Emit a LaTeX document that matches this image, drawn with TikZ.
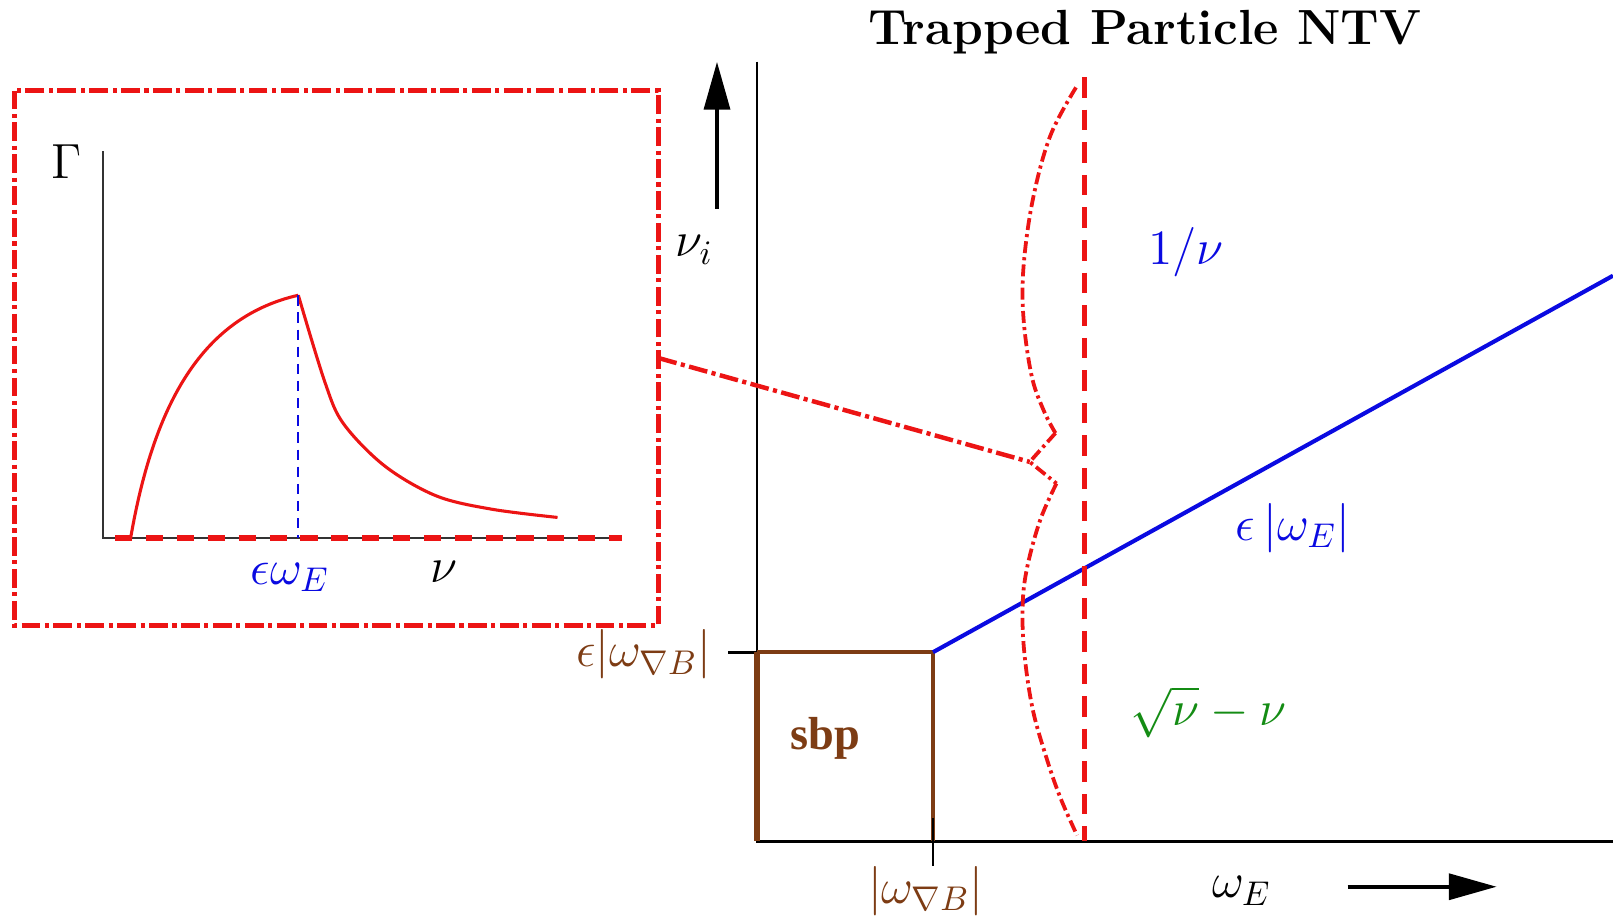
\documentclass[tikz,border=0pt]{standalone}
\usepackage{fontspec}
\newfontfamily\timesfam{Liberation Serif}
\usetikzlibrary{arrows.meta}
\definecolor{rd}{RGB}{236,20,20}
\definecolor{bl}{RGB}{10,10,225}
\definecolor{br}{RGB}{125,60,20}
\definecolor{gr}{RGB}{20,140,20}
\begin{document}
\begin{tikzpicture}[x=0.3pt,y=-0.3pt,
  lab/.style={inner sep=0pt, font=\fontsize{14.4}{17}\selectfont},
  thinaxis/.style={line width=0.6pt, black!80},
  ddotbox/.style={rd, line width=1.3pt, dash pattern=on 5.5pt off 1.3pt on 1.2pt off 1.3pt},
  ddotcurve/.style={rd, line width=1.1pt, dash pattern=on 3.5pt off 1.2pt on 0.9pt off 1.2pt},
  reddash/.style={rd, line width=1.6pt, dash pattern=on 5pt off 4pt},
  bigarrow/.style={line width=1.3pt, -{Triangle[length=14pt,width=7.5pt]}},
]
\useasboundingbox (0,0) rectangle (1568,894);

% ---------- inset ----------
\coordinate (bTL) at (14,88);
\coordinate (bBR) at (640,608);
\coordinate (bJ) at (640,348);
\draw[ddotbox] (bTL) rectangle (bBR);

\coordinate (gTop) at (100,147);
\coordinate (gO) at (100,523);
\coordinate (gEnd) at (605,523);
\coordinate (gS) at (112,523);
\draw[thinaxis] (gTop) -- (gO) -- (gEnd);
\draw[reddash] (gS) -- (gEnd);

\coordinate (pk) at (290,287);
\coordinate (pkb) at (290,523);
\coordinate (st) at (127,523);
\draw[rd, line width=0.9pt] (st) .. controls (150,390) and (198,308) .. (pk);
\draw[rd, line width=0.9pt] plot[smooth, tension=0.55] coordinates
  {(pk) (316,372) (334,412) (374,453) (424,482) (478,495) (542,503)};
\draw[bl, line width=0.5pt, dash pattern=on 3pt off 2pt] (pk) -- (pkb);

\node[lab] (Gam) at (65,157) {$\Gamma$};
\node[lab, text=bl] (eps) at (282,561) {$\epsilon\omega_E$};
\node[lab] (nu) at (432,556) {$\nu$};

% ---------- main diagram ----------
\node[font=\fontsize{14.4}{17}\selectfont\bfseries] (title) at (1113,31) {Trapped Particle NTV};

\coordinate (upA) at (697,203);
\coordinate (upB) at (697,60);
\draw[bigarrow] (upA) -- (upB);
\node[lab] (nui) at (675,243) {$\nu_i$};

\coordinate (yT) at (736,60);
\coordinate (O) at (736,818);
\coordinate (xE) at (1568,818);
\draw[line width=0.8pt] (yT) -- (O) -- (xE);

\coordinate (tkL) at (708,634);
\coordinate (c1) at (736,634);
\coordinate (c2) at (907,634);
\coordinate (c3) at (907,818);
\coordinate (tkT) at (907,795);
\coordinate (tkB) at (907,842);
\draw[line width=0.8pt] (tkL) -- (c1);
\draw[br, line width=1.1pt] (c1) -- (c2) -- (c3);
\draw[br, line width=1.6pt] (c1) -- (O);
\draw[line width=0.8pt] (tkT) -- (tkB);

\node[font=\timesfam\bfseries\fontsize{13.5}{16}\selectfont, text=br] (sbp) at (802,718) {sbp};
\node[lab, text=br, anchor=east] (eB) at (692,636) {$\epsilon\bigl|\omega_{\nabla B}\bigr|$};
\node[lab, text=br] (wB) at (900,866) {$\bigl|\omega_{\nabla B}\bigr|$};

\coordinate (bE) at (1568,268);
\draw[bl, line width=1.2pt] (c2) -- (bE);

\coordinate (vT) at (1054,75);
\coordinate (vB) at (1054,818);
\draw[reddash, dash pattern=on 6pt off 3.5pt] (vT) -- (vB);

\coordinate (jn) at (1001,449);
\coordinate (ju) at (1026,421);
\coordinate (jl) at (1027,470);
\draw[ddotcurve] plot[smooth, tension=0.6] coordinates
  {(1046,85) (1021,132) (1004,194) (995,259) (995,310) (1003,366) (1015,400) (ju)};
\draw[ddotcurve] (ju) -- (jn) -- (jl);
\draw[ddotcurve] plot[smooth, tension=0.6] coordinates
  {(jl) (1011,506) (998,554) (994,592) (996,637) (1004,690) (1018,739) (1031,776) (1047,812)};
\draw[ddotbox] (bJ) -- (jn);

\node[lab, text=bl] (inv) at (1153,245) {$1/\nu$};
\node[lab, text=bl] (eE) at (1257,513) {$\epsilon\,|\omega_E|$};
\node[lab, text=gr] (sq) at (1175,692) {$\sqrt{\nu}-\nu$};
\node[lab] (wE) at (1207,866) {$\omega_E$};
\coordinate (rA) at (1310,862);
\coordinate (rB) at (1455,862);
\draw[bigarrow] (rA) -- (rB);
\end{tikzpicture}
\end{document}
